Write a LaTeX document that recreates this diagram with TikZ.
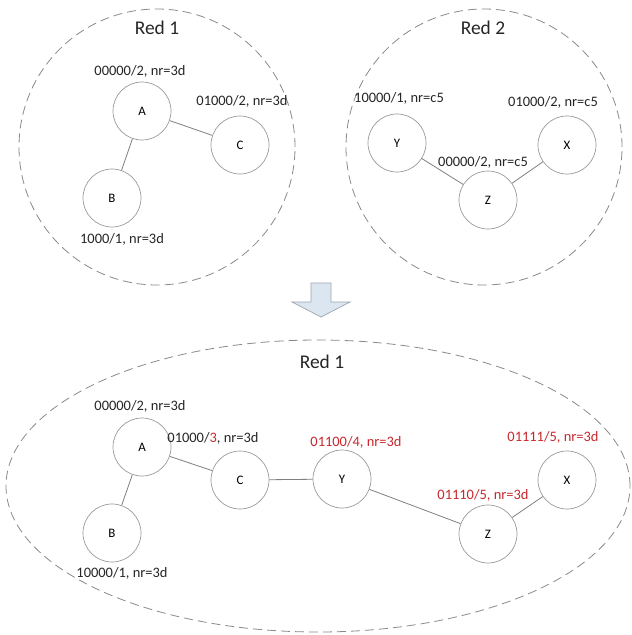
\documentclass[tikz,border=0pt]{standalone}
\usepackage{fontspec}
\setmainfont{Carlito}
\definecolor{edgegray}{HTML}{808080}
\definecolor{ringgray}{HTML}{8A8A8A}
\definecolor{nodeline}{HTML}{9A9A9A}
\definecolor{nodeshade}{HTML}{E2E2E2}
\definecolor{labelred}{HTML}{C8282D}
\definecolor{arrowfill}{HTML}{DCE6F1}
\definecolor{arrowline}{HTML}{9AA6B2}
% soft white ball: white in the middle, light grey towards the rim
\pgfdeclareradialshading{softball}{\pgfpoint{0bp}{0bp}}{%
  color(0bp)=(white); color(24bp)=(white); color(50bp)=(nodeshade); color(60bp)=(nodeshade)}
\begin{document}
\begin{tikzpicture}[x=1bp,y=-1bp,
  vertex/.style={circle,draw=nodeline,line width=0.7bp,shading=softball,
    minimum size=58bp,inner sep=0pt,font=\fontsize{13}{15}\selectfont},
  info/.style={inner sep=0pt,font=\fontsize{14.5}{17}\selectfont,text=black!85},
  newinfo/.style={info,text=labelred},
  title/.style={inner sep=0pt,font=\fontsize{19.5}{23}\selectfont,text=black!85},
  ring/.style={draw=ringgray,line width=0.8bp,dash pattern=on 9bp off 5bp},
  link/.style={draw=edgegray,line width=0.8bp}]
\useasboundingbox (0,0) rectangle (632,635);
\fill[white] (0,0) rectangle (632,635);

% upper left network
\draw[ring] (157,147) circle[radius=138bp];
\node[title] (t1) at (157,28) {Red 1};
\node[vertex] (A1) at (142,111) {A};
\node[vertex] (C1) at (240,145) {C};
\node[vertex] (B1) at (112,198) {B};
\node[info] (lA1) at (140,71) {00000/2, nr=3d};
\node[info] (lC1) at (242,101) {01000/2, nr=3d};
\node[info] (lB1) at (122,239) {1000/1, nr=3d};
\draw[link] (A1) -- (C1);
\draw[link] (A1) -- (B1);

% upper right network
\draw[ring] (484,147) circle[radius=138bp];
\node[title] (t2) at (483,28) {Red 2};
\node[vertex] (Y2) at (397,143) {Y};
\node[vertex] (X2) at (567,145) {X};
\node[vertex] (Z2) at (488,200) {Z};
\node[info] (lY2) at (399,98) {10000/1, nr=c5};
\node[info] (lX2) at (553,102) {01000/2, nr=c5};
\node[info] (lZ2) at (483,162) {00000/2, nr=c5};
\draw[link] (Y2) -- (Z2);
\draw[link] (Z2) -- (X2);

% merge arrow
\draw[draw=arrowline,fill=arrowfill,line width=0.7bp,line join=miter]
  (311,283) -- (331,283) -- (331,302) -- (350,302) -- (321,317) -- (292,302) -- (311,302) -- cycle;

% merged network
\draw[ring] (318,486) ellipse[x radius=312bp,y radius=146bp];
\node[title] (t3) at (322,362) {Red 1};
\node[vertex] (A3) at (142,447) {A};
\node[vertex] (C3) at (240,480) {C};
\node[vertex] (B3) at (112,533) {B};
\node[vertex] (Y3) at (342,479) {Y};
\node[vertex] (Z3) at (488,534) {Z};
\node[vertex] (X3) at (567,480) {X};
\node[info] (lA3) at (140,406) {00000/2, nr=3d};
\node[info] (lC3) at (213,438) {01000/\textcolor{labelred}{3}, nr=3d};
\node[info] (lB3) at (122,573) {10000/1, nr=3d};
\node[newinfo] (lY3) at (356,442) {01100/4, nr=3d};
\node[newinfo] (lX3) at (553,437) {01111/5, nr=3d};
\node[newinfo] (lZ3) at (483,495) {01110/5, nr=3d};
\draw[link] (A3) -- (B3);
\draw[link] (A3) -- (C3);
\draw[link] (C3) -- (Y3);
\draw[link] (Y3) -- (Z3);
\draw[link] (Z3) -- (X3);
\end{tikzpicture}
\end{document}
